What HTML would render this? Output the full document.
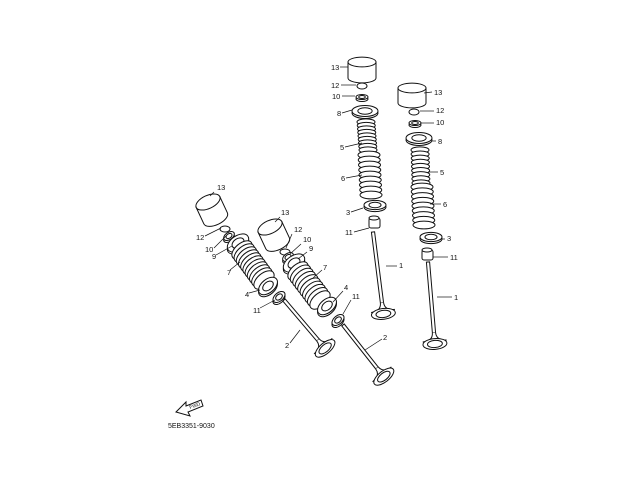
<!DOCTYPE html>
<html><head><meta charset="utf-8"><style>
html,body{margin:0;padding:0;background:#fff;width:640px;height:480px;overflow:hidden}
svg{display:block}
text{font-family:"Liberation Sans",sans-serif;font-size:7.5px;fill:#111}
</style></head><body>
<svg id="s" width="640" height="480" viewBox="0 0 640 480" xmlns="http://www.w3.org/2000/svg" stroke="#111" stroke-width="1" fill="#fff">
<g id="parts"></g>
<g id="lbl" stroke-width="0.7"></g>
<g>
<polygon points="176,412 186,402 186,406 201,400 203,406 188,412 190,416" fill="#fff"/>
<text x="190" y="409" stroke="none" style="font-size:5px" transform="rotate(-20 190 409)">FWD</text>
<text x="168" y="428" stroke="none" style="font-size:7px">5EB3351-9030</text>
</g>
</svg>
<script>
const P=document.getElementById('parts'),L=document.getElementById('lbl');
let h='';
function e(cx,cy,rx,ry,a){h+=`<ellipse cx="${cx}" cy="${cy}" rx="${rx}" ry="${ry}" transform="rotate(${a||0} ${cx} ${cy})"/>`;}
function bucket(cx,cy,r,hh,a,k){k=k||0.35;
 h+=`<g transform="rotate(${a} ${cx} ${cy})"><path d="M${cx-r},${cy} L${cx-r},${cy+hh} A${r},${r*k} 0 0 0 ${cx+r},${cy+hh} L${cx+r},${cy} Z"/><ellipse cx="${cx}" cy="${cy}" rx="${r}" ry="${r*k}"/></g>`;}
function spring(x1,y1,x2,y2,n,r,a,k){k=k||0.35;for(let i=0;i<n;i++){const t=i/(n-1);e(x1+(x2-x1)*t,y1+(y2-y1)*t,r,r*k,a);}}
function valve(x1,y1,x2,y2,hr){
 const dx=x2-x1,dy=y2-y1,l=Math.hypot(dx,dy),ux=dx/l,uy=dy/l,nx=-uy,ny=ux;
 const ang=Math.atan2(dy,dx)*180/Math.PI-90;
 h+=`<polygon points="${x1+nx*1.6},${y1+ny*1.6} ${x2+nx*1.6},${y2+ny*1.6} ${x2-nx*1.6},${y2-ny*1.6} ${x1-nx*1.6},${y1-ny*1.6}"/>`;
 const hx=x2+ux*8,hy=y2+uy*8;
 h+=`<path d="M${x2+nx*1.6},${y2+ny*1.6} Q${hx+nx*2},${hy+ny*2} ${hx+nx*hr},${hy+ny*hr} L${hx-nx*hr},${hy-ny*hr} Q${hx-nx*2},${hy-ny*2} ${x2-nx*1.6},${y2-ny*1.6}"/>`;
 e(hx+ux*3,hy+uy*3,hr,hr*0.45,ang);e(hx+ux*3,hy+uy*3,hr*0.62,hr*0.3,ang);}
function ring(cx,cy,r,a,k){k=k||0.42;e(cx,cy+2,r,r*k,a);e(cx,cy,r,r*k,a);e(cx,cy,r*0.55,r*k*0.6,a);}
// right-left assembly (upright)
valve(373,232,382,303,12);
bucket(362,62,14,16,0);e(362,86,5,3);ring(362,97,6,0);ring(365,111,13,0);
spring(366,122,368,150,9,9,0);spring(369,155,371,195,9,11,0);
ring(375,205,11,0);h+=`<rect x="369" y="218" width="11" height="10" rx="2"/>`;e(374,218,5,2);
// right-right
valve(428,262,434,333,12);
bucket(412,88,14,15,0);e(414,112,5,3);ring(415,123,6,0);ring(419,138,13,0);
spring(420,150,421,183,9,9,0);spring(422,187,424,225,9,11,0);
ring(431,237,11,0);h+=`<rect x="422" y="250" width="11" height="10" rx="2"/>`;e(427,250,5,2);
// left A
bucket(208,202,13,18,-25,0.5);e(225,229,5,3);ring(229,236,6,-35,0.6);ring(238,243,12,-35,0.6);
spring(242,250,264,280,11,12,-40,0.55);ring(268,286,11,-40,0.6);ring(279,297,7,-40,0.6);
valve(284,300,318,340,12);
// left B
bucket(270,227,13,18,-25,0.5);e(285,252,5,3);ring(288,257,6,-35,0.6);ring(294,263,12,-35,0.6);
spring(298,271,320,300,10,12,-40,0.55);ring(327,306,11,-40,0.6);ring(338,320,7,-40,0.6);
valve(343,325,377,368,12);
P.innerHTML=h;
let g='';
function lb(t,tx,ty,x1,y1,x2,y2){g+=`<line x1="${x1}" y1="${y1}" x2="${x2}" y2="${y2}"/><text x="${tx}" y="${ty}" stroke="none">${t}</text>`;}
lb('13',331,70,340,67,348,67);lb('12',331,88,341,85,356,85);lb('10',332,99,342,96,355,96);
lb('8',337,116,342,113,352,110);lb('5',340,150,345,147,362,143);lb('6',341,181,346,178,362,175);
lb('3',346,215,351,212,363,208);lb('11',345,235,354,232,369,228);lb('1',399,268,386,266,397,266);
lb('13',434,95,424,93,432,92);lb('12',436,113,420,111,434,111);lb('10',436,125,421,123,434,123);
lb('8',438,144,432,141,436,141);lb('5',440,175,428,172,438,172);lb('6',443,207,430,204,441,204);
lb('3',447,241,442,239,445,239);lb('11',450,260,433,257,448,257);lb('1',454,300,437,297,452,297);
lb('13',217,190,214,192,210,196);lb('12',196,240,205,236,221,228);lb('10',205,252,214,248,226,236);
lb('9',212,259,216,255,232,246);lb('7',227,275,230,270,240,262);lb('4',245,297,249,293,260,290);
lb('11',253,313,260,308,275,300);lb('2',285,348,290,343,300,330);
lb('13',281,215,280,217,275,222);lb('12',294,232,292,234,286,248);lb('10',303,242,301,244,290,254);
lb('9',309,251,307,252,298,259);lb('7',323,270,322,270,313,278);lb('4',344,290,343,291,333,302);
lb('11',352,299,351,300,343,314);lb('2',383,340,382,339,365,350);
L.innerHTML=g;
</script>
</body></html>
